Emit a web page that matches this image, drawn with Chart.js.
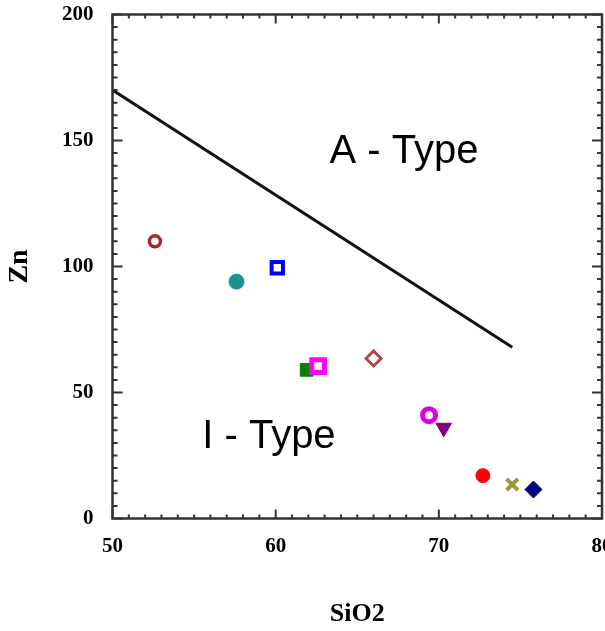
<!DOCTYPE html>
<html>
<head>
<meta charset="utf-8">
<script src="https://cdn.jsdelivr.net/npm/chart.js@4.4.1/dist/chart.umd.min.js"></script>
<style>
  html, body { margin: 0; padding: 0; background: #fff; }
  #wrap { width: 605px; height: 631px; }
</style>
</head>
<body>
<div id="wrap"><canvas id="chart" width="605" height="631"></canvas></div>
<script>
// ---------- data ----------
const sio2 = [52.6, 57.6, 60.1, 61.9, 62.6, 66.0, 69.4, 70.3, 72.7, 74.5, 75.8];
const zn   = [110, 94, 99.5, 59, 60.5, 63.5, 41, 36, 17, 13.5, 11.5];

// I-type / A-type discrimination line
const boundarySiO2 = [50, 74.5];
const boundaryZn   = [170, 68];

const xTicks = [50, 60, 70, 80];
const yTicks = [0, 50, 100, 150, 200];

// ---------- marker styles ----------
const markerStyle  = ['circle', 'circle', 'rect', 'rect', 'rect', 'rectRot', 'circle', 'triangle', 'circle', 'crossRot', 'rectRot'];
const markerColor  = ['#a52a2a', '#1a9090', '#0000ff', '#008000', '#ff00ff', '#b04848', '#e000e0', '#800080', '#ff0000', '#9a9a3a', '#000080'];
const markerFill   = ['#ffffff', '#1a9090', '#ffffff', '#008000', '#ffffff', '#ffffff', '#ffffff', '#800080', '#ff0000', '#9a9a3a', '#000080'];
const markerRadius = [5.5, 7.5, 8, 9, 9, 7.5, 6.5, 9, 7, 8, 8.5];
const markerBorder = [3.5, 1, 4, 1, 5, 3, 5, 1, 1, 4, 1];
const markerRot    = [0, 0, 0, 0, 0, 0, 0, 180, 0, 0, 0];

const serifFamily = '"Liberation Serif", "Times New Roman", serif';
const serifBold = { family: serifFamily, weight: 'bold' };

// ---------- inward ticks on all four sides + frame ----------
const frameTicks = {
  id: 'frameTicks',
  afterDatasetsDraw(chart) {
    const { ctx, chartArea: a, scales: { x, y } } = chart;
    ctx.save();
    ctx.strokeStyle = '#333';
    ctx.lineWidth = 2;
    for (let v = 50; v <= 80; v++) {
      const px = x.getPixelForValue(v);
      const len = v % 10 === 0 ? 9 : 4;
      ctx.beginPath();
      ctx.moveTo(px, a.bottom); ctx.lineTo(px, a.bottom - len);
      ctx.moveTo(px, a.top); ctx.lineTo(px, a.top + len);
      ctx.stroke();
    }
    for (let v = 0; v <= 200; v += 5) {
      const py = y.getPixelForValue(v);
      const len = v % 50 === 0 ? 10 : 5;
      ctx.beginPath();
      ctx.moveTo(a.left, py); ctx.lineTo(a.left + len, py);
      ctx.moveTo(a.right, py); ctx.lineTo(a.right - len, py);
      ctx.stroke();
    }
    ctx.lineWidth = 2.5;
    ctx.strokeRect(a.left, a.top, a.right - a.left, a.bottom - a.top);

    // x tick labels drawn here so the "80" can run off the canvas edge
    ctx.fillStyle = '#000';
    ctx.font = 'bold 21px ' + serifFamily;
    ctx.textAlign = 'center';
    ctx.textBaseline = 'top';
    xTicks.forEach(v => ctx.fillText(String(v), x.getPixelForValue(v), a.bottom + 18));
    ctx.restore();
  }
};

// ---------- field labels ----------
const fieldLabels = {
  id: 'fieldLabels',
  afterDatasetsDraw(chart) {
    const { ctx, scales: { x, y } } = chart;
    ctx.save();
    ctx.fillStyle = '#000';
    ctx.font = '40px "Liberation Sans", Arial, sans-serif';
    ctx.textBaseline = 'alphabetic';
    ctx.textAlign = 'left';
    ctx.fillText('A - Type', x.getPixelForValue(63.3), y.getPixelForValue(141));
    ctx.fillText('I - Type', x.getPixelForValue(55.5), y.getPixelForValue(28));
    ctx.restore();
  }
};

new Chart(document.getElementById('chart'), {
  type: 'scatter',
  data: {
    datasets: [
      {
        data: sio2.map((v, i) => ({ x: v, y: zn[i] })),
        pointStyle: markerStyle,
        pointRadius: markerRadius,
        pointBorderWidth: markerBorder,
        pointBorderColor: markerColor,
        pointBackgroundColor: markerFill,
        pointRotation: markerRot,
        showLine: false
      },
      {
        type: 'line',
        data: boundarySiO2.map((v, i) => ({ x: v, y: boundaryZn[i] })),
        borderColor: '#111',
        borderWidth: 3,
        pointRadius: 0,
        fill: false
      }
    ]
  },
  options: {
    responsive: false,
    animation: false,
    layout: { autoPadding: false, padding: { top: 14.5, right: 3, left: 0, bottom: 0 } },
    plugins: { legend: { display: false }, tooltip: { enabled: false } },
    scales: {
      x: {
        type: 'linear',
        min: 50, max: 80,
        afterFit: s => { s.height = 112.5; s.paddingLeft = 0; s.paddingRight = 0; },
        grid: { display: false },
        border: { display: false },
        ticks: { display: false },
        title: {
          display: true, text: 'SiO2', color: '#000',
          padding: { top: 0, bottom: 1 },
          font: { ...serifBold, size: 26 }
        }
      },
      y: {
        type: 'linear',
        min: 0, max: 200,
        afterFit: s => { s.width = 112.5; s.paddingTop = 0; s.paddingBottom = 0; },
        afterBuildTicks: s => { s.ticks = yTicks.map(v => ({ value: v })); },
        grid: { display: false },
        border: { display: false },
        ticks: { color: '#000', padding: 11, font: { ...serifBold, size: 21 } },
        title: {
          display: true, text: 'Zn', color: '#000',
          padding: { top: 3, bottom: 0 },
          font: { ...serifBold, size: 28 }
        }
      }
    }
  },
  plugins: [frameTicks, fieldLabels]
});
</script>
</body>
</html>
